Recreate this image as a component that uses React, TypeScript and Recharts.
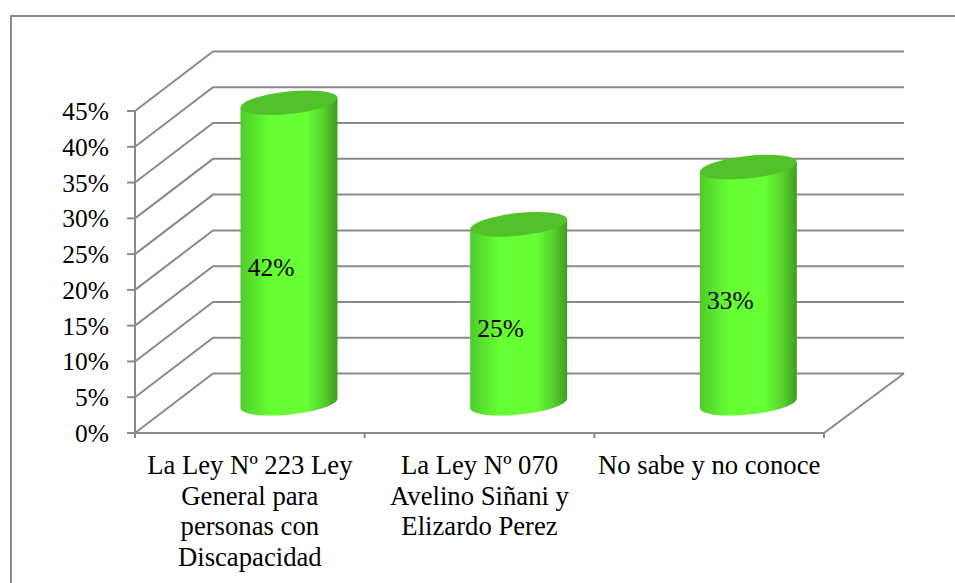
import React from 'react';
import { BarChart, Bar, XAxis, YAxis, CartesianGrid, LabelList } from 'recharts';

const categories = [
  'La Ley Nº 223 Ley General para personas con Discapacidad',
  'La Ley Nº 070 Avelino Siñani y Elizardo Perez',
  'No sabe y no conoce',
];
const categoryLines = [
  ['La Ley Nº 223 Ley', 'General para', 'personas con', 'Discapacidad'],
  ['La Ley Nº 070', 'Avelino Siñani y', 'Elizardo Perez'],
  ['No sabe y no conoce'],
];
const values = [42, 25, 33];
const yTicks = [0, 5, 10, 15, 20, 25, 30, 35, 40, 45];

const data = categories.map((name, i) => ({ name, value: values[i] }));

const WIDTH = 955;
const HEIGHT = 583;
const PLOT_LEFT = 135;
const PLOT_RIGHT = 824;
const PLOT_TOP = 111;
const PLOT_BOTTOM = 433;
const DEPTH_X = 78;
const DEPTH_Y = 59.5;
const BACK_RIGHT = 904;
const GRID = '#8a8a8a';
const LINE = 2;
const FONT = '"Liberation Serif", "Times New Roman", serif';

// wall gridline: runs up the side wall, then along the back wall
const GridLine = (props: any) => {
  const { x1, x2, y1 } = props;
  const backY = y1 - DEPTH_Y;
  const isFloor = Math.abs(y1 - PLOT_BOTTOM) < 1;
  return (
    <g fill="none" stroke={GRID} strokeWidth={LINE}>
      <polyline points={`${x1},${y1} ${x1 + DEPTH_X},${backY} ${BACK_RIGHT},${backY}`} />
      {isFloor && <line x1={x2} y1={y1} x2={BACK_RIGHT} y2={backY} />}
    </g>
  );
};

const Cylinder = (props: any) => {
  const { x, y, width, height } = props;
  const cx = x + width / 2 + DEPTH_X / 2 + 0.5;
  const topY = y - DEPTH_Y / 2;
  const baseY = y + height - DEPTH_Y / 2;
  const halfW = width / 2;
  const a = 48.7;
  const b = 11.3;
  const tilt = -6;
  const rad = (tilt * Math.PI) / 180;
  const ey = ((a * a - b * b) * Math.abs(Math.sin(rad)) * Math.cos(rad)) / halfW;
  const body = [
    `M${cx - halfW},${topY + ey}`,
    `L${cx - halfW},${baseY + ey}`,
    `A${a},${b} ${tilt} 0 0 ${cx + halfW},${baseY - ey}`,
    `L${cx + halfW},${topY - ey}`,
    'Z',
  ].join(' ');
  return (
    <g>
      <path d={body} fill="url(#cyl)" />
      <path d={`M${cx - halfW},${topY + ey} A${a},${b} ${tilt} 0 0 ${cx + halfW},${topY - ey} L${cx + halfW},${topY - ey} Z`} fill="url(#cyl)" />
      <ellipse cx={cx} cy={topY} rx={a} ry={b} transform={`rotate(${tilt} ${cx} ${topY})`} fill="#52c12a" />
    </g>
  );
};

const CategoryTick = (props: any) => {
  const { x, y, index } = props;
  const band = (PLOT_RIGHT - PLOT_LEFT) / categories.length;
  return (
    <g>
      <line x1={x - band / 2} y1={y} x2={x - band / 2} y2={y + 5} stroke={GRID} strokeWidth={LINE} />
      {index === categories.length - 1 && (
        <line x1={x + band / 2} y1={y} x2={x + band / 2} y2={y + 5} stroke={GRID} strokeWidth={LINE} />
      )}
      <text x={x} textAnchor="middle" fontFamily={FONT} fontSize={26.7} fill="#000">
        {categoryLines[index].map((line, i) => (
          <tspan key={line} x={x} y={y + 41 + i * 30.5}>
            {line}
          </tspan>
        ))}
      </text>
    </g>
  );
};

const ValueLabel = (props: any) => {
  const { x, y, width, height, value } = props;
  return (
    <text
      x={x + width / 2 + DEPTH_X / 4 + 2}
      y={y + height / 2 - DEPTH_Y / 4}
      textAnchor="middle"
      dominantBaseline="central"
      fontFamily={FONT}
      fontSize={25.5}
      fill="#000"
    >
      {value}%
    </text>
  );
};

export default function App() {
  return (
    <div style={{ position: 'absolute', left: 0, top: 0, width: WIDTH, height: HEIGHT, overflow: 'hidden', background: '#fff' }}>
      <div style={{ position: 'absolute', left: 10, top: 15, width: 980, height: 600, border: `2px solid ${GRID}`, boxSizing: 'border-box' }} />
      <BarChart
        width={WIDTH}
        height={HEIGHT}
        data={data}
        margin={{ top: PLOT_TOP, left: 0, right: WIDTH - PLOT_RIGHT, bottom: 0 }}
        style={{ position: 'absolute', left: 0, top: 0 }}
      >
        <defs>
          <linearGradient id="cyl" x1="0" y1="0" x2="1" y2="0">
            <stop offset="0" stopColor="#4fcb2a" />
            <stop offset="0.3" stopColor="#66ff33" />
            <stop offset="0.68" stopColor="#66ff33" />
            <stop offset="0.86" stopColor="#55d02c" />
            <stop offset="1" stopColor="#409c22" />
          </linearGradient>
        </defs>
        <CartesianGrid vertical={false} horizontal={GridLine} />
        <XAxis
          dataKey="name"
          interval={0}
          height={HEIGHT - PLOT_BOTTOM}
          axisLine={{ stroke: GRID, strokeWidth: LINE }}
          tickLine={false}
          tickSize={0}
          tickMargin={0}
          tick={CategoryTick}
        />
        <YAxis
          width={PLOT_LEFT}
          domain={[0, 45]}
          ticks={yTicks}
          interval={0}
          tickFormatter={(v) => `${v}%`}
          axisLine={{ stroke: GRID, strokeWidth: LINE }}
          tickLine={{ stroke: GRID, strokeWidth: LINE }}
          tickSize={8}
          tickMargin={18}
          tick={{ fontFamily: FONT, fontSize: 25.5, fill: '#000' }}
        />
        <Bar dataKey="value" barSize={97} shape={Cylinder} isAnimationActive={false}>
          <LabelList dataKey="value" content={ValueLabel} />
        </Bar>
      </BarChart>
    </div>
  );
}
